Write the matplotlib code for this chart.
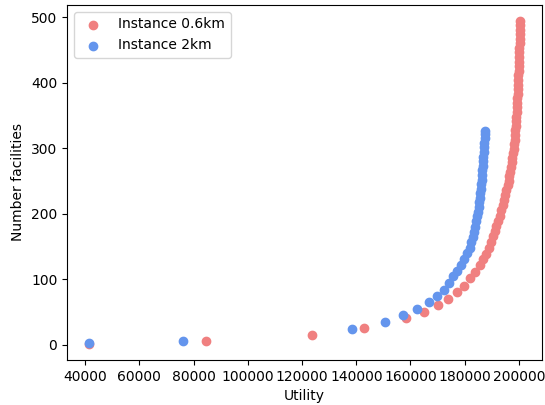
import matplotlib
matplotlib.use("Agg")
import matplotlib.pyplot as plt

# Utility vs. number of facilities for the two instances
util_06 = [41500, 84500, 123500, 143000, 158500, 165000, 170000, 174000, 177200, 179700,
           182100, 183900, 185500, 186800, 187900, 188800, 189600, 190300, 191000, 191700,
           192300, 192900, 193500, 194000, 194500, 195000, 195400, 195800, 196200, 196500,
           196800, 197100, 197400, 197600, 197800, 198000, 198200, 198400, 198550, 198700,
           198800, 198900, 199000, 199100, 199200, 199300, 199400, 199500, 199600, 199680,
           199750, 199820, 199880, 199940, 200000, 200060, 200120, 200180, 200240, 200300,
           200360, 200420, 200480, 200540]
fac_06 = [1, 5, 14, 25, 40, 50, 60, 70, 80, 90,
          101, 111, 121, 130, 139, 148, 157, 165, 173, 181,
          189, 197, 205, 213, 221, 229, 236, 243, 250, 257,
          264, 271, 278, 285, 292, 299, 306, 313, 320, 327,
          334, 341, 348, 355, 362, 369, 376, 383, 390, 397,
          404, 411, 418, 425, 432, 439, 446, 453, 460, 467,
          474, 481, 488, 494]

util_2 = [41300, 76200, 138300, 150500, 157300, 162400, 166700, 169800, 172500, 174200,
          175700, 177200, 178600, 179800, 181000, 181800, 182500, 183000, 183500, 183900,
          184300, 184600, 184900, 185150, 185400, 185600, 185800, 186000, 186150, 186300,
          186450, 186550, 186650, 186750, 186850, 186950, 187050, 187200, 187350, 187450,
          187540]
fac_2 = [2, 6, 24, 35, 45, 55, 65, 74, 84, 94,
         104, 113, 122, 131, 140, 148, 156, 164, 172, 180,
         188, 196, 203, 210, 217, 224, 231, 238, 245, 252,
         259, 266, 273, 280, 287, 294, 301, 308, 315, 322,
         326]

fig, ax = plt.subplots(figsize=(5.45, 4.05), dpi=100)
fig.subplots_adjust(left=0.123, right=0.9945, top=0.988, bottom=0.111)

ax.scatter(util_06, fac_06, color="lightcoral", label="Instance 0.6km")
ax.scatter(util_2, fac_2, color="cornflowerblue", label="Instance 2km")

ax.set_xticks(range(40000, 200001, 20000))
ax.set_yticks(range(0, 501, 100))
ax.set_xlabel("Utility")
ax.set_ylabel("Number facilities")
ax.legend(loc="upper left")

fig.savefig("out.png")
